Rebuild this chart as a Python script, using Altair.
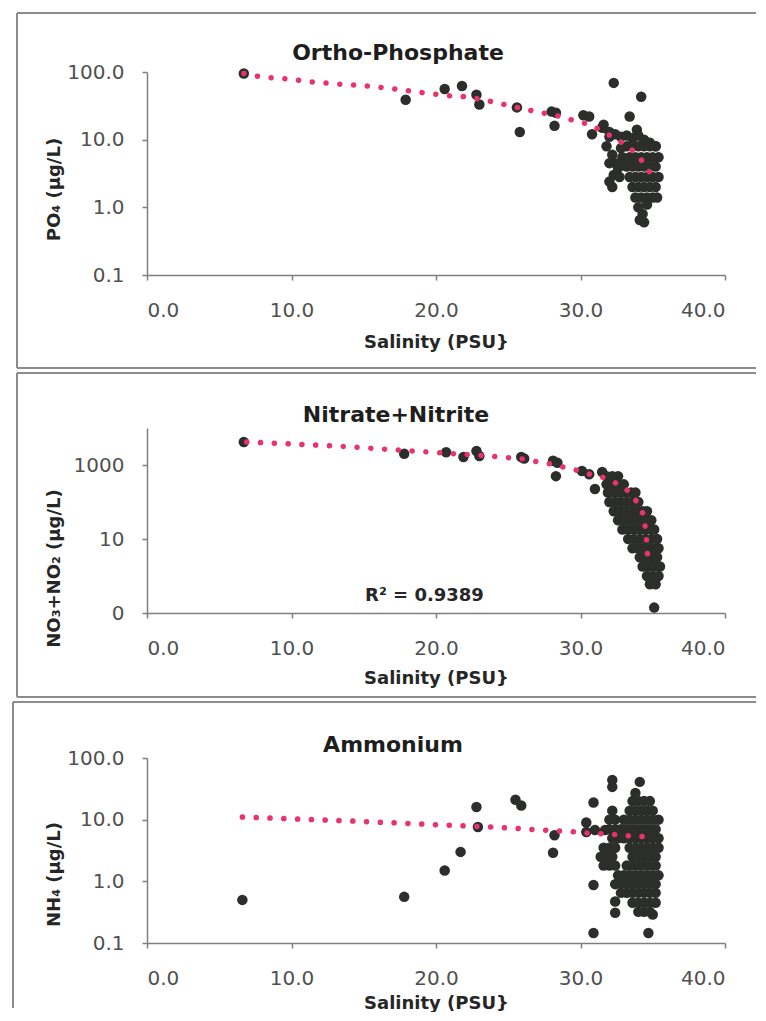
import altair as alt
import pandas as pd

FONT = "DejaVu Sans"
PT_COLOR = "#2b2e2b"
TR_COLOR = "#e8336b"
BORDER = "#8c8c8c"

# ---------------- Ortho-Phosphate ----------------
po4_sal = [6.7, 17.9, 20.6, 21.8, 22.8, 23.0, 25.6, 25.8, 28.0, 28.3, 28.2, 30.2, 30.6, 30.8,
           31.5, 31.6, 32.0, 32.3, 34.2, 33.4, 33.9,
           32.0, 32.4, 32.8, 33.2, 33.6, 34.0, 34.4, 34.8, 35.2,
           33.2, 33.6, 34.0, 34.4, 34.8, 35.2,
           33.4, 33.8, 34.2, 34.6, 35.0, 35.4,
           33.2, 33.6, 34.0, 34.4, 34.8, 35.2,
           33.4, 33.8, 34.2, 34.6, 35.0, 35.4,
           33.6, 34.0, 34.4, 34.8, 35.2,
           33.8, 34.2, 34.6, 35.0, 35.3,
           31.8, 32.2, 32.0, 32.4, 32.3, 32.0, 32.6, 32.9, 32.8, 33.0, 32.2, 32.7,
           34.0, 34.3, 34.1, 34.4, 34.6]
po4_val = [95, 39, 56, 62, 46, 33, 30, 13, 26, 25, 16, 23, 22, 12,
           15, 16.6, 11, 69, 43, 22, 14,
           13, 12, 11, 11.5, 10.5, 11.5, 10, 9, 8,
           8, 8, 8, 8, 8, 8,
           5.5, 5.5, 5.5, 5.5, 5.5, 5.5,
           4, 4, 4, 4, 4, 4,
           2.8, 2.8, 2.8, 2.8, 2.8, 2.8,
           2.0, 2.0, 2.0, 2.0, 2.0,
           1.4, 1.4, 1.4, 1.4, 1.4,
           8, 6, 4.5, 4.5, 3, 2.4, 3.8, 5.5, 7.5, 4.2, 2.0, 2.8,
           1.0, 0.8, 0.65, 0.6, 1.1]
po4_tr_sal = [6.7, 7.8, 9.7, 11.5, 13.4, 15.3, 17.2, 19.2, 21.1, 22.2, 24.0, 25.1, 26.9,
              28.6, 29.6, 30.7, 31.6, 32.5, 33.3, 34.0, 34.5, 35.1]
po4_tr_val = [95, 85, 79, 71, 66, 62, 56, 49, 44, 43, 36, 31.6, 26,
              22, 19, 16.6, 12.9, 10.2, 7.8, 5.9, 4.0, 2.7]

# ---------------- Nitrate+Nitrite ----------------
no3_sal = [6.7, 17.8, 20.7, 21.9, 22.8, 23.0, 25.9, 26.1, 28.1, 28.4, 28.3, 30.1, 30.6,
           31.0, 31.5, 35.1,
           31.8, 32.2, 32.6,
           31.8, 32.2, 32.6, 33.0,
           31.9, 32.3, 32.7, 33.1, 33.5, 33.8,
           32.0, 32.4, 32.8, 33.2, 33.6, 34.0,
           32.3, 32.7, 33.1, 33.5, 33.9, 34.3, 34.6,
           32.6, 33.0, 33.4, 33.8, 34.2, 34.6, 34.9,
           32.9, 33.3, 33.7, 34.1, 34.5, 34.9, 35.1,
           33.3, 33.7, 34.1, 34.5, 34.9, 35.3,
           33.6, 34.0, 34.4, 34.8, 35.2, 35.4,
           34.1, 34.5, 34.9, 35.3,
           34.3, 34.7, 35.1, 35.5,
           34.6, 35.0, 35.4,
           34.8, 35.2]
no3_val = [4200, 2000, 2200, 1650, 2400, 1750, 1650, 1500, 1300, 1150, 500, 690, 560,
           225, 650, 0.14,
           500, 500, 500,
           300, 300, 300, 300,
           180, 180, 180, 180, 180, 180,
           100, 100, 100, 100, 100, 100,
           56, 56, 56, 56, 56, 56, 56,
           32, 32, 32, 32, 32, 32, 32,
           18, 18, 18, 18, 18, 18, 18,
           10, 10, 10, 10, 10, 10,
           5.6, 5.6, 5.6, 5.6, 5.6, 5.6,
           3.2, 3.2, 3.2, 3.2,
           1.8, 1.8, 1.8, 1.8,
           1.0, 1.0, 1.0,
           0.6, 0.6]
no3_tr_sal = [6.9, 10.1, 13.5, 18.3, 23.7, 26.1, 27.1, 28.0, 28.8, 29.7, 30.6, 31.7,
              32.6, 33.4, 34.0, 34.4, 34.5, 34.6, 34.65]
no3_tr_val = [4200, 3700, 3200, 2400, 1750, 1450, 1200, 1060, 880, 730, 570, 445,
              305, 187, 88, 42, 17, 7.2, 3.1]
r2_sal = [19.2]
r2_val = [0.29]
r2_text = ["R² = 0.9389"]

# ---------------- Ammonium ----------------
nh4_sal = [6.6, 17.8, 20.6, 21.7, 22.8, 22.9, 25.5, 25.9, 28.1, 28.2,
           30.9, 32.2, 32.2, 34.1, 33.8, 30.4, 30.4, 31.0, 31.7,
           30.9, 32.4, 32.4, 30.9, 34.7, 35.0,
           33.6, 34.0, 34.4, 34.8,
           32.2, 33.4, 33.8, 34.2, 34.6, 35.0,
           32.0, 32.4, 33.0, 33.4, 33.8, 34.2, 34.6, 35.0, 35.4,
           32.0, 32.4, 32.8, 33.2, 33.6, 34.0, 34.4, 34.8, 35.2,
           32.2, 32.6, 33.0, 33.4, 33.8, 34.2, 34.6, 35.0, 35.4,
           31.6, 32.0, 32.4, 33.4, 33.8, 34.2, 34.6, 35.0, 35.4,
           31.4, 31.8, 32.2, 33.6, 34.0, 34.4, 34.8, 35.2,
           31.6, 32.0, 32.4, 33.2, 33.6, 34.0, 34.4, 34.8, 35.2,
           32.6, 33.0, 33.4, 33.8, 34.2, 34.6, 35.0, 35.4,
           32.4, 32.8, 33.2, 33.6, 34.0, 34.4, 34.8, 35.2,
           32.8, 33.2, 33.6, 34.0, 34.4, 34.8, 35.2,
           33.6, 34.0, 34.4, 34.8, 35.2,
           34.0, 34.4, 34.8]
nh4_val = [0.50, 0.56, 1.5, 3.0, 16, 7.6, 21, 17, 2.9, 5.6,
           19, 44, 34, 41, 27, 9, 6.3, 6.8, 6.8,
           0.87, 0.47, 0.31, 0.145, 0.145, 0.29,
           20, 20, 20, 20,
           14, 14, 14, 14, 14, 14,
           10, 10, 10, 10, 10, 10, 10, 10, 10,
           7, 7, 7, 7, 7, 7, 7, 7, 7,
           5, 5, 5, 5, 5, 5, 5, 5, 5,
           3.5, 3.5, 3.5, 3.5, 3.5, 3.5, 3.5, 3.5, 3.5,
           2.5, 2.5, 2.5, 2.5, 2.5, 2.5, 2.5, 2.5,
           1.8, 1.8, 1.8, 1.8, 1.8, 1.8, 1.8, 1.8, 1.8,
           1.25, 1.25, 1.25, 1.25, 1.25, 1.25, 1.25, 1.25,
           0.9, 0.9, 0.9, 0.9, 0.9, 0.9, 0.9, 0.9,
           0.65, 0.65, 0.65, 0.65, 0.65, 0.65, 0.65,
           0.45, 0.45, 0.45, 0.45, 0.45,
           0.32, 0.32, 0.32]
nh4_tr_sal = [6.6, 13.7, 23.8, 29.8, 30.6, 31.6, 32.6, 33.5, 34.8]
nh4_tr_val = [11, 9.6, 7.6, 6.3, 6.0, 5.9, 5.7, 5.4, 5.3]

X_TICKS = [0, 10, 20, 30, 40]
LIN_FMT = "format(datum.value, '.1f')"
NO3_FMT = "datum.value < 1 ? '0' : format(datum.value, 'd')"

one = pd.DataFrame({"k": [0]})
RIGHT = 609


def seg(x1, x2, y1, y2, color=BORDER):
    return alt.Chart(one).mark_rule(color=color, strokeWidth=2).encode(
        x=alt.value(x1), x2=alt.value(x2), y=alt.value(y1), y2=alt.value(y2))


def panel(sal, val, tr_sal, tr_val, title, tpos, ytitle, ydom, yvals, lexpr, h,
          xtitle_y, ytitle_y, borders, extra=None):
    pts = pd.DataFrame({"sal": sal, "val": val})
    tr = pd.DataFrame({"sal": tr_sal, "val": tr_val})
    x = alt.X("sal:Q", scale=alt.Scale(domain=[0, 40], nice=False, zero=False),
              axis=alt.Axis(values=X_TICKS, format=".1f", title="Salinity (PSU}",
                            labelPadding=20, titleY=xtitle_y, titleBaseline="middle"))
    y = alt.Y("val:Q", scale=alt.Scale(type="log", domain=ydom, nice=False),
              axis=alt.Axis(values=yvals, labelExpr=lexpr, title=ytitle, labelPadding=18,
                            titleX=-93, titleY=ytitle_y, titleBaseline="middle"))
    points = alt.Chart(pts).mark_circle(size=110, color=PT_COLOR, opacity=1).encode(x=x, y=y)
    trend = alt.Chart(tr).mark_line(color=TR_COLOR, strokeWidth=5.5, strokeDash=[0.1, 13.7],
                                    strokeCap="round").encode(x=x, y=y)
    ttl = alt.Chart(one).mark_text(text=title, font=FONT, fontSize=22, fontWeight="bold",
                                   color="#1e1e1e", align="center", baseline="middle").encode(
        x=alt.value(tpos[0]), y=alt.value(tpos[1]))
    layers = list(borders) + [points, trend, ttl]
    if extra is not None:
        layers.append(extra)
    return alt.layer(*layers).properties(width=578, height=h)


p1 = panel(po4_sal, po4_val, po4_tr_sal, po4_tr_val, "Ortho-Phosphate", (251, -19),
           "PO₄ (µg/L)", [0.1, 100], [0.1, 1, 10, 100], LIN_FMT, 203, 67, 117,
           [seg(-130, RIGHT, -59, -59), seg(-130, -130, -59, 296),
            seg(-130, RIGHT, 296, 296)])

r2_df = pd.DataFrame({"sal": r2_sal, "val": r2_val, "txt": r2_text})
r2 = alt.Chart(r2_df).mark_text(font=FONT, fontSize=18, fontWeight="bold", color="#262626",
                                align="center", baseline="middle").encode(
    x="sal:Q", y="val:Q", text="txt:N")

p2 = panel(no3_sal, no3_val, no3_tr_sal, no3_tr_val, "Nitrate+Nitrite", (249, -13),
           "NO₃+NO₂ (µg/L)", [0.1, 10000], [0.1, 10, 1000], NO3_FMT, 185, 65, 140,
           [seg(-130, RIGHT, -55, -55), seg(-130, -130, -55, 269),
            seg(-130, RIGHT, 269, 269)],
           extra=r2)

p3 = panel(nh4_sal, nh4_val, nh4_tr_sal, nh4_tr_val, "Ammonium", (246, -13),
           "NH₄ (µg/L)", [0.1, 100], [0.1, 1, 10, 100], LIN_FMT, 185, 60, 116,
           [seg(-134, RIGHT, -56, -56), seg(-134, -134, -56, 250)])

chart = alt.vconcat(p1, p2, p3, spacing=3).properties(
    padding={"left": 4, "top": 4, "right": 0, "bottom": 0}
).configure_view(stroke=None).configure_axis(
    labelFont=FONT, labelFontSize=20, labelColor="#505050",
    titleFont=FONT, titleFontSize=18, titleFontWeight="bold", titleColor="#262626",
    domainColor="#7f7f7f", domainWidth=1.5, tickColor="#7f7f7f", tickWidth=1.5,
    tickSize=5, grid=False
)

chart.save("out.html", embed_options={"renderer": "svg", "actions": False})
